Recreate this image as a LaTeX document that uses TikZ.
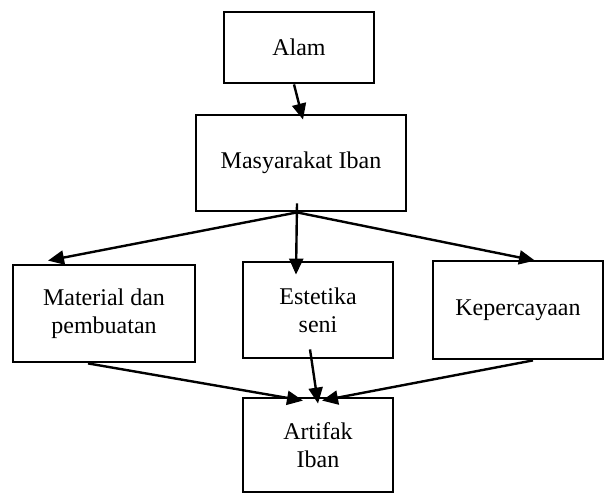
\documentclass[tikz,border=0pt]{standalone}
\usepackage{fontspec}
\setmainfont{Liberation Serif}
\usetikzlibrary{arrows.meta, positioning}

\tikzset{blok/.style={draw, line width=1.4pt, inner sep=0pt, align=center, font=\fontsize{12}{14}\selectfont}}

\begin{document}
\begin{tikzpicture}[>={Triangle[length=8pt,width=7pt]}, line width=1.2pt, on grid]
   \useasboundingbox (0,0) rectangle (302.5pt,-246.5pt);
   \node[blok, minimum width=75pt, minimum height=35.5pt] (alam) at (149.5pt,-23.75pt) {Alam};
   \node[blok, minimum width=105pt, minimum height=48pt] (iban) [below right=57.75pt and 1pt of alam] {Masyarakat Iban};
   \node[blok, minimum width=75pt, minimum height=48pt] (estetika) [below right=73.5pt and 8.5pt of iban] {Estetika\\seni};
   \node[blok, minimum width=91pt, minimum height=48.5pt] (material) [below left=1.75pt and 107pt of estetika] {Material dan\\pembuatan};
   \node[blok, minimum width=85pt, minimum height=49pt] (percaya) [right=100pt of estetika] {Kepercayaan};
   \node[blok, minimum width=75pt, minimum height=47pt] (artifak) [below=67.5pt of estetika] {Artifak\\Iban};
   \path[->]
    ([xshift=-2.5pt]alam.south)          edge ([xshift=1pt,yshift=-3pt]iban.north)
    ([xshift=-2pt]iban.south)            edge ([xshift=-28pt,yshift=1.5pt]material.north)
    ([xshift=-2pt,yshift=4.5pt]iban.south) edge ([xshift=-11pt,yshift=-7pt]estetika.north)
    ([xshift=-2pt]iban.south)            edge ([xshift=8.5pt,yshift=-0.5pt]percaya.north)
    ([xshift=-8pt]material.south)        edge ([xshift=-7.5pt,yshift=-2pt]artifak.north)
    ([xshift=-4pt,yshift=5pt]estetika.south) edge ([yshift=-3.5pt]artifak.north)
    ([xshift=7.5pt]percaya.south)        edge ([xshift=2pt,yshift=-2pt]artifak.north);
\end{tikzpicture}
\end{document}
